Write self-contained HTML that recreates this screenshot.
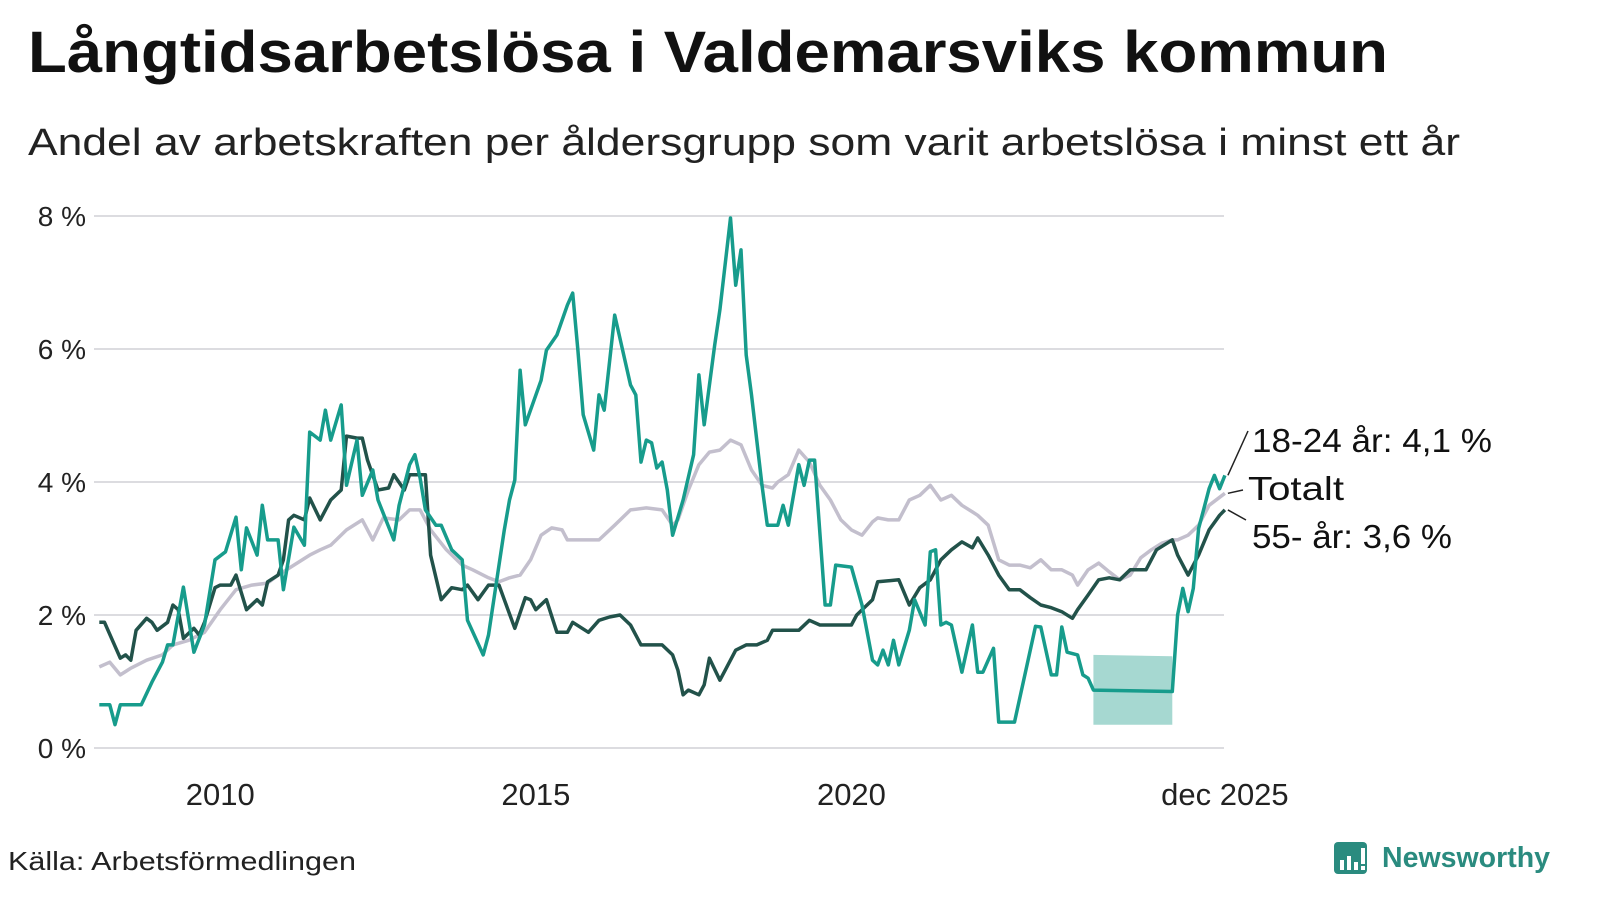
<!DOCTYPE html>
<html><head><meta charset="utf-8"><style>
body{margin:0;width:1600px;height:900px;background:#fff;font-family:"Liberation Sans",sans-serif;overflow:hidden}
svg{display:block}
</style></head><body>
<svg id="chart" width="1600" height="900" xmlns="http://www.w3.org/2000/svg">
<text x="28" y="72" font-size="58" font-weight="bold" fill="#111" textLength="1360" lengthAdjust="spacingAndGlyphs">Långtidsarbetslösa i Valdemarsviks kommun</text>
<text x="28" y="155" font-size="38" fill="#222" textLength="1432" lengthAdjust="spacingAndGlyphs">Andel av arbetskraften per åldersgrupp som varit arbetslösa i minst ett år</text>
<g id="grid"></g>
<g id="marks"></g>
<text x="8" y="870" font-size="26" fill="#222" textLength="348" lengthAdjust="spacingAndGlyphs">Källa: Arbetsförmedlingen</text>
<g>
<rect x="1334" y="842" width="33" height="32" rx="4" fill="#2a8b7f"/>
<rect x="1340" y="860" width="4" height="10" fill="#fff"/><rect x="1347" y="856" width="4" height="14" fill="#fff"/><rect x="1354" y="862" width="4" height="8" fill="#fff"/><rect x="1361" y="848" width="4" height="16" fill="#fff"/><rect x="1361" y="866" width="4" height="4" fill="#fff"/>
<text x="1382" y="867" font-size="29" font-weight="bold" fill="#2a8b7f" textLength="168" lengthAdjust="spacingAndGlyphs">Newsworthy</text>
</g>
</svg>
<script>
const yTicks=[0,2,4,6,8];
const xTickMonths=[24,84,144,215];
const xTickLabels=["2010","2015","2020","dec 2025"];
const youthMonths=[1,3,4,5,9,11,13,14,15,17,19,21,23,25,27,28,29,31,32,33,35,36,38,40,41,43,44,45,47,48,50,51,53,54,57,58,60,61,62,63,65,66,68,70,71,74,75,77,78,79,80,81,82,85,86,88,90,91,92,93,95,96,97,99,102,103,104,105,106,107,108,109,110,112,114,115,116,118,119,121,122,123,124,125,127,128,130,131,132,134,135,136,137,139,140,141,144,146,148,149,150,151,152,153,155,156,158,159,160,161,162,163,165,166,167,168,169,171,172,175,179,180,182,183,184,185,187,188,189,190,205,206,207,208,209,210,211,212,213,214,215];
const youthValues=[0.65,0.65,0.35,0.65,0.65,0.99,1.29,1.55,1.55,2.42,1.44,1.85,2.83,2.95,3.47,2.68,3.31,2.9,3.65,3.13,3.13,2.38,3.32,3.05,4.75,4.63,5.08,4.63,5.16,3.95,4.63,3.8,4.18,3.73,3.13,3.65,4.26,4.41,4.06,3.58,3.35,3.35,2.98,2.83,1.92,1.4,1.7,2.75,3.28,3.73,4.03,5.68,4.86,5.53,5.98,6.21,6.66,6.84,5.98,5.01,4.48,5.31,5.08,6.51,5.46,5.31,4.3,4.63,4.59,4.21,4.3,3.88,3.2,3.73,4.41,5.61,4.86,6.06,6.59,7.97,6.96,7.49,5.91,5.31,3.95,3.35,3.35,3.65,3.35,4.26,3.95,4.33,4.33,2.15,2.15,2.75,2.72,2.15,1.32,1.25,1.47,1.25,1.62,1.25,1.77,2.23,1.85,2.95,2.98,1.85,1.89,1.85,1.14,1.5,1.85,1.14,1.14,1.5,0.39,0.39,1.83,1.82,1.1,1.1,1.82,1.44,1.4,1.1,1.05,0.87,0.85,2.0,2.4,2.05,2.4,3.3,3.6,3.9,4.1,3.9,4.1];
const bandMonths=[190,205];
const bandLow=[0.35,0.35];
const bandHigh=[1.4,1.38];
const seniorMonths=[1,2,5,6,7,8,10,11,12,14,15,16,17,19,20,21,23,24,26,27,29,31,32,33,35,36,37,38,40,41,43,45,47,48,50,51,52,54,56,57,59,60,62,63,64,66,68,70,71,73,75,77,78,80,82,83,84,86,88,90,91,94,96,98,100,102,104,106,108,110,111,112,113,115,116,117,119,120,122,124,126,128,129,132,134,136,138,140,142,144,145,148,149,153,155,157,159,161,163,165,167,168,170,172,174,176,178,180,182,184,186,187,189,191,193,195,197,200,202,205,206,208,210,212,214,215];
const seniorValues=[1.89,1.89,1.35,1.4,1.32,1.77,1.95,1.89,1.77,1.89,2.15,2.08,1.65,1.8,1.7,1.89,2.41,2.45,2.45,2.6,2.08,2.23,2.15,2.5,2.6,2.83,3.43,3.5,3.43,3.76,3.43,3.73,3.88,4.69,4.66,4.66,4.33,3.88,3.91,4.11,3.88,4.11,4.11,4.11,2.9,2.23,2.41,2.38,2.45,2.23,2.45,2.45,2.23,1.8,2.26,2.23,2.08,2.23,1.74,1.74,1.89,1.74,1.92,1.97,2.0,1.85,1.55,1.55,1.55,1.4,1.17,0.8,0.87,0.8,0.95,1.35,1.02,1.17,1.47,1.55,1.55,1.62,1.77,1.77,1.77,1.92,1.85,1.85,1.85,1.85,2.0,2.23,2.5,2.53,2.15,2.41,2.53,2.83,2.98,3.1,3.01,3.16,2.9,2.6,2.38,2.38,2.26,2.15,2.11,2.05,1.95,2.08,2.3,2.53,2.56,2.53,2.68,2.68,2.98,3.13,2.9,2.6,2.9,3.28,3.5,3.58];
const totalMonths=[1,3,5,7,10,13,15,18,21,24,27,30,33,35,38,41,43,45,48,51,53,55,58,60,62,64,67,70,72,75,77,79,81,83,85,87,89,90,93,96,99,102,105,108,110,111,113,115,117,119,121,123,125,127,129,130,132,134,136,138,140,142,144,146,148,149,151,153,155,157,159,161,163,165,167,168,170,172,174,176,178,180,182,184,186,187,189,191,193,195,197,199,201,203,205,206,208,210,212,214,215];
const totalValues=[1.22,1.29,1.1,1.2,1.32,1.4,1.55,1.62,1.74,2.08,2.38,2.45,2.48,2.6,2.75,2.9,2.98,3.05,3.28,3.43,3.13,3.46,3.43,3.58,3.58,3.28,2.98,2.75,2.68,2.56,2.5,2.56,2.6,2.83,3.2,3.31,3.28,3.13,3.13,3.13,3.35,3.58,3.61,3.58,3.35,3.43,3.88,4.26,4.45,4.48,4.63,4.56,4.18,3.95,3.91,4.0,4.11,4.48,4.3,3.95,3.73,3.43,3.28,3.2,3.4,3.46,3.43,3.43,3.73,3.8,3.95,3.73,3.8,3.65,3.55,3.5,3.35,2.83,2.75,2.75,2.71,2.83,2.68,2.68,2.6,2.45,2.68,2.78,2.65,2.53,2.6,2.86,2.98,3.08,3.13,3.13,3.2,3.35,3.65,3.77,3.83];

const X0=94,MW=5.26,Y0=748,PU=66.5,XR=1224;
const sx=m=>X0+m*MW, sy=v=>Y0-v*PU;
const NS="http://www.w3.org/2000/svg";
const grid=document.getElementById('grid'), marks=document.getElementById('marks');
function mk(tag,attrs,parent){const e=document.createElementNS(NS,tag);for(const k in attrs)e.setAttribute(k,attrs[k]);parent.appendChild(e);return e;}
yTicks.forEach(t=>{
  const l=mk('line',{x1:X0,x2:XR,y1:sy(t),y2:sy(t),stroke:'#dcdce0','stroke-width':2},grid);
  
  
  const tx=mk('text',{x:86,y:sy(t)+10,'font-size':28,'text-anchor':'end',fill:'#222'},grid);
  tx.textContent=t+' %';
  
  
});
xTickMonths.forEach((m,i)=>{
  const tx=mk('text',{x:sx(m),y:805,'font-size':31,'text-anchor':'middle',fill:'#222'},grid);
  tx.textContent=xTickLabels[i];
  
  
});
let bp='M'+sx(bandMonths[0])+','+sy(bandHigh[0])+' L'+sx(bandMonths[1])+','+sy(bandHigh[1])+' L'+sx(bandMonths[1])+','+sy(bandLow[1])+' L'+sx(bandMonths[0])+','+sy(bandLow[0])+'Z';
const band=mk('path',{d:bp,fill:'#a6d8d1'},marks);


function line(ms,vs,col,name){
  const d=ms.map((m,i)=>(i?'L':'M')+sx(m).toFixed(1)+','+sy(vs[i]).toFixed(1)).join(' ');
  const p=mk('path',{d:d,fill:'none',stroke:col,'stroke-width':3.5,'stroke-linejoin':'round'},marks);
  
  
}
line(totalMonths,totalValues,'#c3bfcd','line-totalt');
line(seniorMonths,seniorValues,'#22524a','line-55-ar');
line(youthMonths,youthValues,'#179c8c','line-18-24-ar');
const labels=[["18-24 år: 4,1 %",1252,452,youthValues[youthValues.length-1],1248,431,240],["Totalt",1248,500,totalValues[totalValues.length-1],1243,490,96],["55- år: 3,6 %",1252,548,seniorValues[seniorValues.length-1],1246,520,200]];
labels.forEach(l=>{
  const ln=mk('line',{x1:sx(215)+3,y1:sy(l[3]),x2:l[4],y2:l[5],stroke:'#222','stroke-width':1.5},marks);
  
  
  const t=mk('text',{x:l[1],y:l[2],'font-size':33,fill:'#111',textLength:l[6],lengthAdjust:'spacingAndGlyphs'},marks);
  t.textContent=l[0];
  
  
});
</script>
</body></html>
